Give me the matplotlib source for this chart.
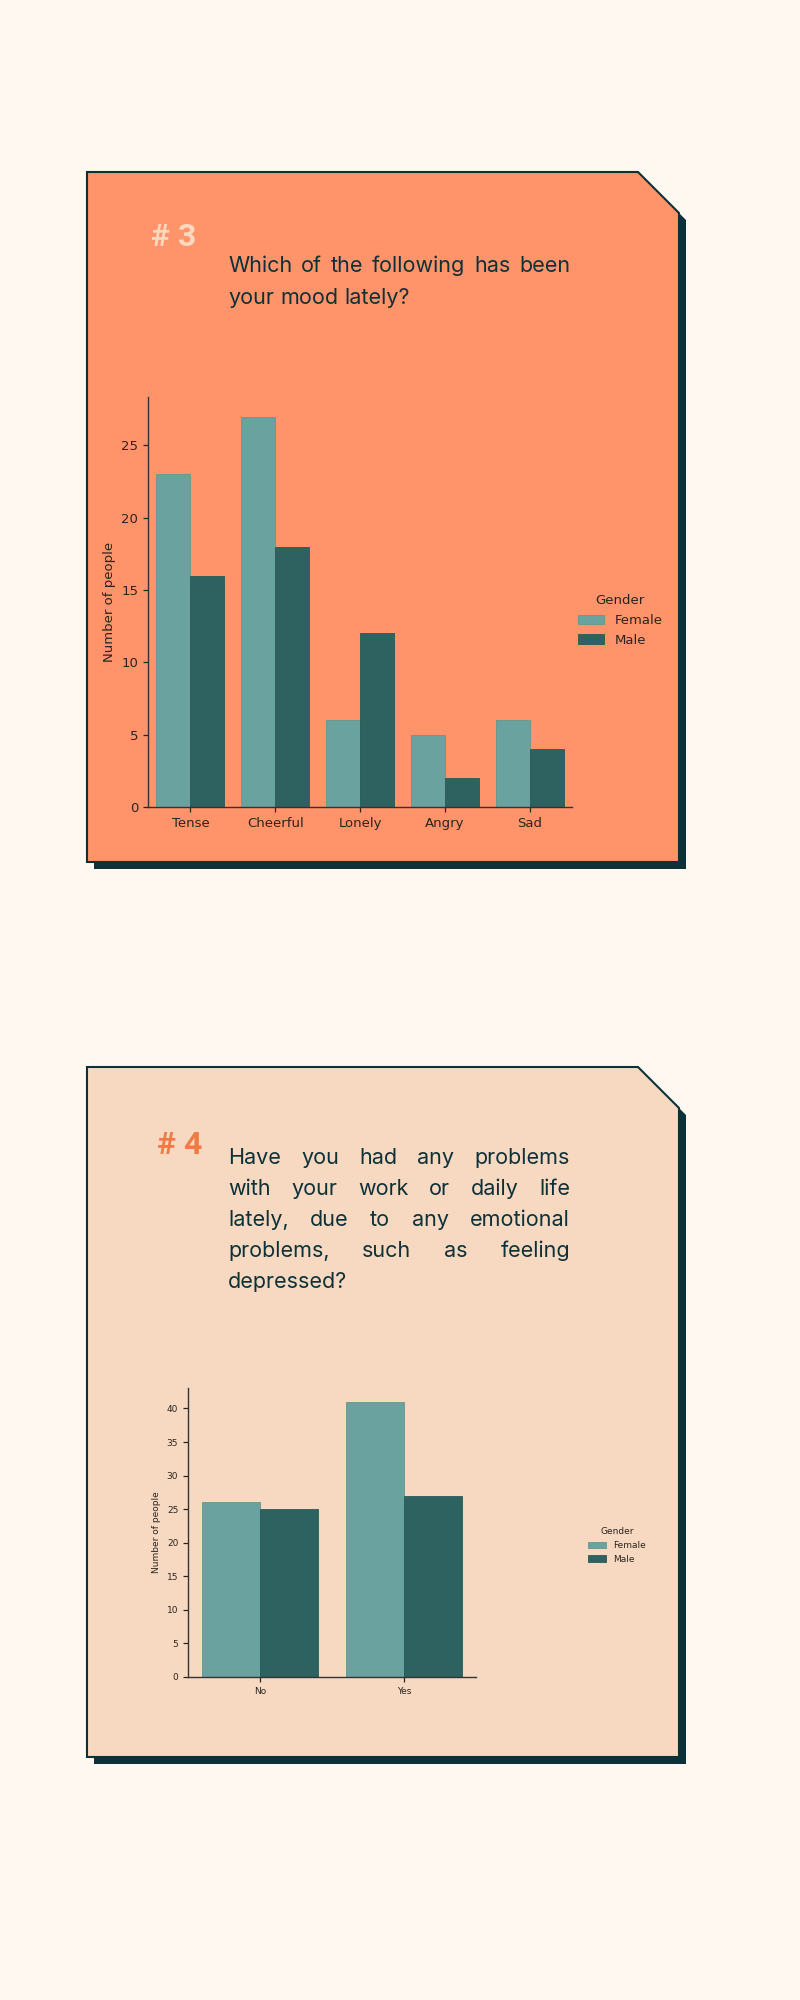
import numpy as np
import matplotlib.pyplot as plt
from matplotlib.patches import Polygon

# chart data
moods = ['Tense', 'Cheerful', 'Lonely', 'Angry', 'Sad']
mood_female = [23, 27, 6, 5, 6]
mood_male = [16, 18, 12, 2, 4]

answers = ['No', 'Yes']
problems_female = [26, 41]
problems_male = [25, 27]

genders = ['Female', 'Male']

q3_lines = ["Which of the following has been", "your mood lately?"]
q4_lines = ["Have you had any problems", "with your work or daily life",
            "lately, due to any emotional", "problems, such as feeling",
            "depressed?"]

BG = '#fef8f1'
DARK = '#0d3139'
CARD3 = '#ff9369'
CARD4 = '#f7d9c1'
FEMALE_C = '#6aa29f'
MALE_C = '#2e6260'
TXT = '#2a2420'

fig = plt.figure(figsize=(8, 20), dpi=100)
fig.patch.set_facecolor(BG)
bg = fig.add_axes([0, 0, 1, 1])
bg.set_xlim(0, 800)
bg.set_ylim(2000, 0)
bg.axis('off')


def card(x0, y0, x1, y1, color, cut=41, off=7):
    pts = [(x0, y0), (x1 - cut, y0), (x1, y0 + cut), (x1, y1), (x0, y1)]
    shadow = Polygon([(x + off, y + off) for x, y in pts], closed=True,
                     facecolor=DARK, edgecolor='none', zorder=1)
    face = Polygon(pts, closed=True, facecolor=color, edgecolor=DARK,
                   lw=1.5, zorder=2)
    bg.add_patch(shadow)
    bg.add_patch(face)


def paragraph(lines, x0, width, y0, spacing, size, color):
    # justified text, last line left aligned
    r = fig.canvas.get_renderer()
    kw = dict(fontsize=size, family='Inter', color=color, va='baseline',
              ha='left', zorder=5)
    a = bg.text(0, -50, 'a a', **kw)
    b = bg.text(0, -50, 'aa', **kw)
    space = a.get_window_extent(r).width - b.get_window_extent(r).width
    a.remove()
    b.remove()
    for i, line in enumerate(lines):
        y = y0 + i * spacing
        words = line.split()
        texts = [bg.text(0, y, w, **kw) for w in words]
        widths = [t.get_window_extent(r).width for t in texts]
        if i < len(lines) - 1 and len(words) > 1:
            gap = (width - sum(widths)) / (len(words) - 1)
        else:
            gap = space
        x = x0
        for t, w in zip(texts, widths):
            t.set_x(x)
            x += w + gap


def bars(ax, cats, fem, mal, size, legend_x):
    x = np.arange(len(cats))
    ax.bar(x - 0.2, fem, 0.4, color=FEMALE_C, edgecolor='#62978f',
           lw=0.6, label=genders[0])
    ax.bar(x + 0.2, mal, 0.4, color=MALE_C, edgecolor='#2a5957',
           lw=0.6, label=genders[1])
    ax.set_xlim(-0.5, len(cats) - 0.5)
    ax.set_ylim(0, max(max(fem), max(mal)) * 1.05)
    ax.set_xticks(x)
    ax.set_xticklabels(cats)
    ax.set_facecolor('none')
    for s in ['top', 'right']:
        ax.spines[s].set_visible(False)
    for s in ['left', 'bottom']:
        ax.spines[s].set_color('#333333')
        ax.spines[s].set_linewidth(1.0)
    ax.tick_params(labelsize=size, colors=TXT, length=3.5, width=0.9)
    ax.set_ylabel('Number of people', fontsize=size, color=TXT)
    leg = ax.legend(title='Gender', loc='center left',
                    bbox_to_anchor=(legend_x, 0.455), frameon=False,
                    fontsize=size, title_fontsize=size)
    for t in leg.get_texts():
        t.set_color(TXT)
    leg.get_title().set_color(TXT)


# card 3
card(87, 172, 679, 862, CARD3)
bg.text(151, 246, '# 3', fontsize=23, family='Roboto', weight='bold',
        color='#fbd8c0', va='baseline', zorder=5)
paragraph(q3_lines, 228, 342, 272, 32, 15.5, DARK)

ax1 = fig.add_axes([148 / 800, 1 - 807 / 2000, 424 / 800, 410 / 2000])
bars(ax1, moods, mood_female, mood_male, 9.5, 0.985)

# card 4
card(87, 1067, 679, 1757, CARD4)
bg.text(157, 1154, '# 4', fontsize=23, family='Roboto', weight='bold',
        color='#ef7c47', va='baseline', zorder=5)
paragraph(q4_lines, 228, 342, 1164, 31, 15.5, DARK)

ax2 = fig.add_axes([188 / 800, 1 - 1677 / 2000, 288 / 800, 289 / 2000])
bars(ax2, answers, problems_female, problems_male, 6.5, 1.36)

fig.savefig('out.png', dpi=100, facecolor=BG)
